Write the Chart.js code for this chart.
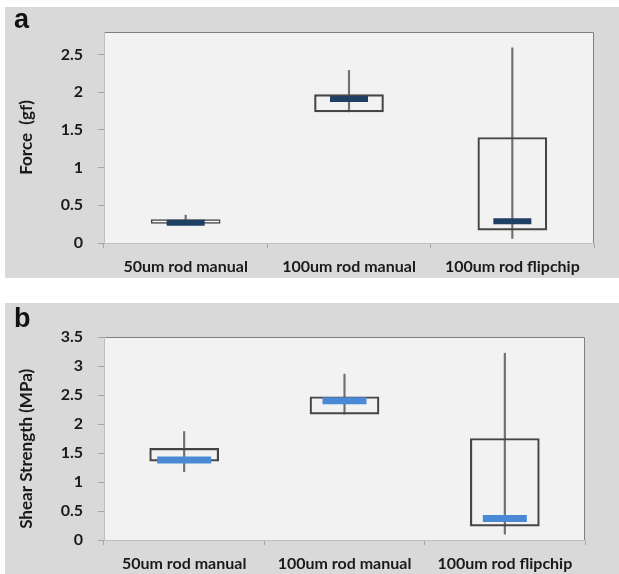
<!DOCTYPE html>
<html>
<head>
<meta charset="utf-8">
<script src="https://cdn.jsdelivr.net/npm/chart.js@4.4.1/dist/chart.umd.min.js"></script>
<style>
  body { margin: 0; background: #fff; width: 619px; height: 574px; position: relative; overflow: hidden; }
  .panel { position: absolute; left: 5px; width: 614px; height: 271px; background: #d9d9d9; }
  .tag { position: absolute; left: 14px; font: bold 27px "Liberation Sans", Arial, sans-serif; color: #111; }
</style>
</head>
<body>
<div class="panel" style="top:7px"><canvas id="forceChart"></canvas></div>
<div class="panel" style="top:303px"><canvas id="shearChart"></canvas></div>
<div class="tag" style="top:4px">a</div>
<div class="tag" style="top:303px">b</div>
<script>
const categories = ['50um rod manual', '100um rod manual', '100um rod flipchip'];

// panel a - force (gf)
const forceLow = [0.26, 1.74, 0.06];
const forceQ1 = [0.26, 1.74, 0.17];
const forceMedian = [0.27, 1.91, 0.29];
const forceQ3 = [0.31, 1.97, 1.40];
const forceHigh = [0.37, 2.29, 2.59];

// panel b - shear strength (MPa)
const shearLow = [1.18, 2.17, 0.10];
const shearQ1 = [1.36, 2.17, 0.24];
const shearMedian = [1.38, 2.40, 0.37];
const shearQ3 = [1.58, 2.47, 1.75];
const shearHigh = [1.87, 2.86, 3.22];

const plotArea = {
    id: 'plotArea',
    beforeDraw(chart) {
        const { ctx, chartArea: a } = chart;
        ctx.save();
        ctx.fillStyle = '#f2f2f2';
        ctx.fillRect(a.left, a.top, a.right - a.left, a.bottom - a.top);
        ctx.strokeStyle = '#808080';
        ctx.lineWidth = 1;
        ctx.beginPath();
        ctx.moveTo(a.left, a.top + 0.5);
        ctx.lineTo(a.right - 0.5, a.top + 0.5);
        ctx.lineTo(a.right - 0.5, a.bottom);
        ctx.stroke();
        ctx.restore();
    }
};

function makeChart(id, low, q1, med, q3, high, opts) {
    const tickFont = { family: 'Lato, "Open Sans", sans-serif', size: 16, weight: 'bold' };
    return new Chart(document.getElementById(id), {
        type: 'bar',
        data: {
            labels: categories,
            datasets: [
                {
                    type: 'line',
                    label: 'median',
                    data: med,
                    showLine: false,
                    pointStyle: 'line',
                    pointRadius: opts.medianRadius,
                    pointBorderWidth: opts.medianWidth,
                    pointBorderColor: opts.medianColor,
                    order: 0
                },
                {
                    label: 'box',
                    data: q1.map((v, i) => [v, q3[i]]),
                    backgroundColor: opts.boxFill,
                    borderColor: '#454545',
                    borderWidth: 1.5,
                    borderSkipped: false,
                    barThickness: 69,
                    order: 1
                },
                {
                    label: 'whisker',
                    data: low.map((v, i) => [v, high[i]]),
                    backgroundColor: '#707070',
                    barThickness: 1.5,
                    order: 2
                }
            ]
        },
        options: {
            responsive: true,
            maintainAspectRatio: false,
            animation: false,
            layout: { padding: { top: 11, right: 6, left: 0, bottom: 0 } },
            plugins: { legend: { display: false }, tooltip: { enabled: false } },
            datasets: { bar: { grouped: false } },
            scales: {
                x: {
                    offset: true,
                    grid: { offset: true, drawOnChartArea: false, tickLength: 5, color: '#a6a6a6' },
                    border: { color: '#bfbfbf' },
                    ticks: { color: '#1a1a1a', font: tickFont, padding: 9, maxRotation: 0 },
                    afterFit: s => { s.height = opts.xHeight; }
                },
                y: {
                    min: 0,
                    max: opts.max,
                    grid: { drawOnChartArea: false, tickLength: 6, color: '#a6a6a6' },
                    border: { color: '#bfbfbf' },
                    ticks: {
                        stepSize: 0.5, includeBounds: false, color: '#1a1a1a', font: tickFont, padding: 15,
                        callback: v => String(v)
                    },
                    title: {
                        display: true,
                        text: opts.title,
                        color: '#1a1a1a',
                        font: { family: 'Lato, "Open Sans", sans-serif', size: 17, weight: 'bold' },
                        padding: { top: 11, bottom: 0 }
                    },
                    afterFit: s => { s.width = 99; }
                }
            }
        },
        plugins: [plotArea]
    });
}

makeChart('forceChart', forceLow, forceQ1, forceMedian, forceQ3, forceHigh, {
    max: 2.8, title: 'Force  (gf)', xHeight: 35, boxFill: ['#fbfbfb', 'rgba(0,0,0,0)', 'rgba(0,0,0,0)'],
    medianRadius: 19, medianWidth: 6, medianColor: '#1f3f63'
});
makeChart('shearChart', shearLow, shearQ1, shearMedian, shearQ3, shearHigh, {
    max: 3.5, title: 'Shear Strength (MPa)     ', xHeight: 34, boxFill: 'rgba(0,0,0,0)',
    medianRadius: [27, 22, 22], medianWidth: 7, medianColor: '#4a89d6'
});
</script>
</body>
</html>
